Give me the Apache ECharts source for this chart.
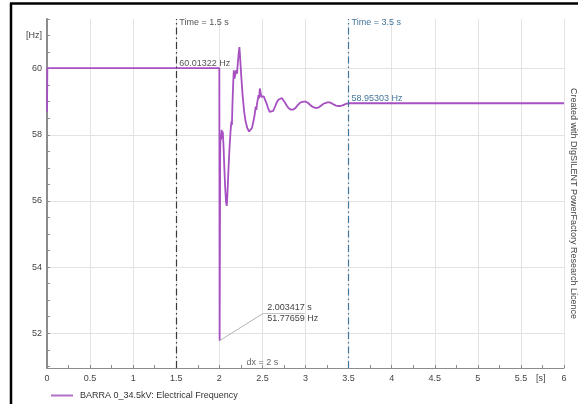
<!DOCTYPE html>
<html>
<head>
<meta charset="utf-8">
<script src="https://cdn.jsdelivr.net/npm/echarts@6/dist/echarts.min.js"></script>
<style>
  html, body { margin: 0; padding: 0; background: #ffffff; }
  #chart { width: 578px; height: 404px; }
</style>
</head>
<body>
<div id="chart"></div>
<script>
// Electrical frequency at BARRA 0_34.5kV, time in seconds, frequency in Hz
const timeS = [
  0, 0.004, 2.0, 2.0034,
  2.010, 2.014, 2.020, 2.027, 2.034, 2.040, 2.048, 2.058, 2.068, 2.078, 2.086, 2.094,
  2.105, 2.118, 2.130, 2.140, 2.146, 2.152, 2.160, 2.168, 2.176, 2.186, 2.196, 2.205,
  2.214, 2.224, 2.233, 2.242, 2.255, 2.270, 2.288, 2.305, 2.325, 2.345, 2.362, 2.378,
  2.395, 2.410, 2.422, 2.430, 2.438, 2.446, 2.455, 2.462, 2.470, 2.478, 2.487, 2.500,
  2.515, 2.530, 2.548, 2.566, 2.585, 2.605, 2.625, 2.645, 2.665, 2.685, 2.705, 2.725,
  2.745, 2.765, 2.785, 2.805, 2.830, 2.855, 2.880, 2.905, 2.930, 2.955, 2.980, 3.005,
  3.030, 3.055, 3.080, 3.105, 3.130, 3.155, 3.180, 3.205, 3.230, 3.255, 3.280, 3.305,
  3.330, 3.355, 3.380, 3.405, 3.430, 3.455, 3.480, 3.505, 4.0, 5.0, 6.0
];
const freqHz = [
  58.70, 60.01322, 60.01322, 51.77659,
  57.60, 58.00, 57.85, 58.15, 57.90, 58.10, 57.70, 57.00, 56.40, 55.95, 55.85, 56.20,
  56.90, 57.60, 58.10, 58.40, 58.30, 58.90, 59.50, 59.95, 59.70, 59.65, 59.95, 59.85,
  60.15, 60.45, 60.65, 60.30, 59.75, 59.20, 58.70, 58.40, 58.20, 58.10, 58.10, 58.20,
  58.40, 58.60, 58.85, 58.75, 58.95, 58.90, 59.20, 59.10, 59.40, 59.35, 59.15, 59.12,
  59.16, 59.10, 58.95, 58.80, 58.69, 58.66, 58.72, 58.84, 58.97, 59.06, 59.11, 59.11,
  59.05, 58.96, 58.87, 58.80, 58.76, 58.76, 58.80, 58.88, 58.95, 58.99, 59.00, 59.00,
  58.96, 58.90, 58.85, 58.82, 58.81, 58.83, 58.88, 58.93, 58.96, 58.98, 58.98, 58.95,
  58.91, 58.88, 58.87, 58.87, 58.89, 58.92, 58.94, 58.95303, 58.955, 58.953, 58.95303
];

const seriesName = 'BARRA 0_34.5kV: Electrical Frequency';
const yLabelValues = [52, 54, 56, 58, 60];
const yTickValues = [51, 51.5, 52, 52.5, 53, 53.5, 54, 54.5, 55, 55.5, 56, 56.5,
                     57, 57.5, 58, 58.5, 59, 59.5, 60, 60.5, 61, 61.5];
const xLabelValues = [0, 0.5, 1, 1.5, 2, 2.5, 3, 3.5, 4, 4.5, 5, 5.5, 6];

// cursor readouts
const cursorA = { t: 1.5, f: 60.01322 };
const cursorB = { t: 3.5, f: 58.95303 };
const minPoint = { t: 2.003417, f: 51.77659 };

const FONT = 'Liberation Sans, Arial, sans-serif';
const AXIS_GREY = '#8c8c8c';
const GRID_GREY = '#e3e3e3';
const LINE_PURPLE = '#a650c2';
const CURSOR_DARK = '#3a3a3a';
const CURSOR_BLUE = '#44759a';

const chart = echarts.init(document.getElementById('chart'), null, { renderer: 'canvas' });

const textLabel = (txt, color, pos) => ({
  show: true, position: pos || 'right', distance: 3, formatter: txt,
  color: color, fontSize: 9, fontFamily: FONT, lineHeight: 11
});

const option = {
  animation: false,
  backgroundColor: '#ffffff',
  textStyle: { fontFamily: FONT },
  grid: { left: 47, right: 14, top: 19, bottom: 36, containLabel: false },
  legend: {
    data: [{ name: seriesName, icon: 'rect' }],
    left: 46, top: 386,
    itemWidth: 22, itemHeight: 2,
    itemStyle: { color: '#b070c8' },
    textStyle: { fontSize: 9, color: '#333', fontFamily: FONT, padding: [0, 0, 0, 2] }
  },
  xAxis: {
    type: 'value', min: 0, max: 6, interval: 0.5,
    axisLine: { show: true, onZero: false, lineStyle: { color: AXIS_GREY, width: 1 } },
    axisTick: { show: true, inside: true, length: 3, lineStyle: { color: AXIS_GREY } },
    minorTick: { show: true, splitNumber: 2, length: 3, lineStyle: { color: AXIS_GREY } },
    axisLabel: {
      customValues: xLabelValues.concat([5.73]),
      formatter: v => (Math.abs(v - 5.73) < 1e-6 ? '[s]' : String(v)),
      color: '#444', fontSize: 9, fontFamily: FONT, margin: 6
    },
    splitLine: { show: true, lineStyle: { color: GRID_GREY, width: 1 } }
  },
  yAxis: [
    {
      type: 'value', min: 50.95, max: 61.5,
      axisLine: { show: true, lineStyle: { color: AXIS_GREY, width: 2 } },
      axisTick: { show: true, inside: true, length: 3, customValues: yTickValues,
                  lineStyle: { color: AXIS_GREY } },
      axisLabel: {
        customValues: yLabelValues.concat([61]),
        formatter: v => (v === 61 ? '[Hz]' : String(v)),
        color: '#444', fontSize: 9, fontFamily: FONT, margin: 5
      },
      splitLine: { show: false }
    },
    {
      type: 'value', min: 50.95, max: 61.5, position: 'left',
      axisLine: { show: false },
      axisTick: { show: false, customValues: yLabelValues },
      axisLabel: { show: false },
      splitLine: { show: true, lineStyle: { color: GRID_GREY, width: 1 } }
    }
  ],
  series: [
    {
      name: seriesName,
      type: 'line',
      yAxisIndex: 0,
      data: timeS.map((t, i) => [t, freqHz[i]]),
      symbol: 'none',
      smooth: false,
      lineStyle: { color: LINE_PURPLE, width: 1.8 },
      itemStyle: { color: LINE_PURPLE },
      z: 3,
      markLine: {
        silent: true,
        symbol: ['none', 'none'],
        label: { show: false },
        animation: false,
        data: [
          { xAxis: cursorA.t, lineStyle: { color: CURSOR_DARK, width: 1.2, type: [7, 3, 1.5, 3] } },
          { xAxis: cursorB.t, lineStyle: { color: CURSOR_BLUE, width: 1.2, type: [7, 3, 1.5, 3] } },
          [
            { coord: [minPoint.t, minPoint.f], lineStyle: { color: '#b5b5b5', width: 1, type: 'solid' } },
            { coord: [2.508, 52.6] }
          ],
          [
            { coord: [2.508, 52.6], lineStyle: { color: '#c4c4c4', width: 1, type: 'solid' } },
            { coord: [2.99, 52.6] }
          ]
        ]
      },
      markPoint: {
        silent: true,
        symbol: 'circle',
        symbolSize: 0,
        animation: false,
        data: [
          { coord: [cursorA.t, 61.38], label: textLabel('Time = ' + cursorA.t + ' s', '#555') },
          { coord: [cursorB.t, 61.38], label: textLabel('Time = ' + cursorB.t + ' s', CURSOR_BLUE) },
          { coord: [cursorA.t, 60.15], label: textLabel(cursorA.f.toFixed(5) + ' Hz', '#555') },
          { coord: [cursorB.t, 59.09], label: textLabel(cursorB.f.toFixed(5) + ' Hz', CURSOR_BLUE) },
          { coord: [2.5, 51.12], label: textLabel('dx = ' + (cursorB.t - cursorA.t) + ' s', '#666', 'inside') },
          { coord: [2.52, 52.6],
            label: textLabel(minPoint.t.toFixed(6) + ' s\n' + minPoint.f.toFixed(5) + ' Hz', '#444') }
        ]
      }
    }
  ],
  graphic: [
    { type: 'line', silent: true, shape: { x1: 10, y1: 3.5, x2: 578, y2: 3.5 },
      style: { stroke: '#000', lineWidth: 2.5 } },
    { type: 'line', silent: true, shape: { x1: 11, y1: 3, x2: 11, y2: 404 },
      style: { stroke: '#000', lineWidth: 2.5 } },
    { type: 'text', silent: true, x: 573, y: 88, rotation: -Math.PI / 2,
      style: { text: 'Created with DIgSILENT PowerFactory Research Licence',
               fill: '#444', fontSize: 9, fontFamily: FONT,
               align: 'left', verticalAlign: 'middle' } }
  ]
};

chart.setOption(option);
</script>
</body>
</html>
